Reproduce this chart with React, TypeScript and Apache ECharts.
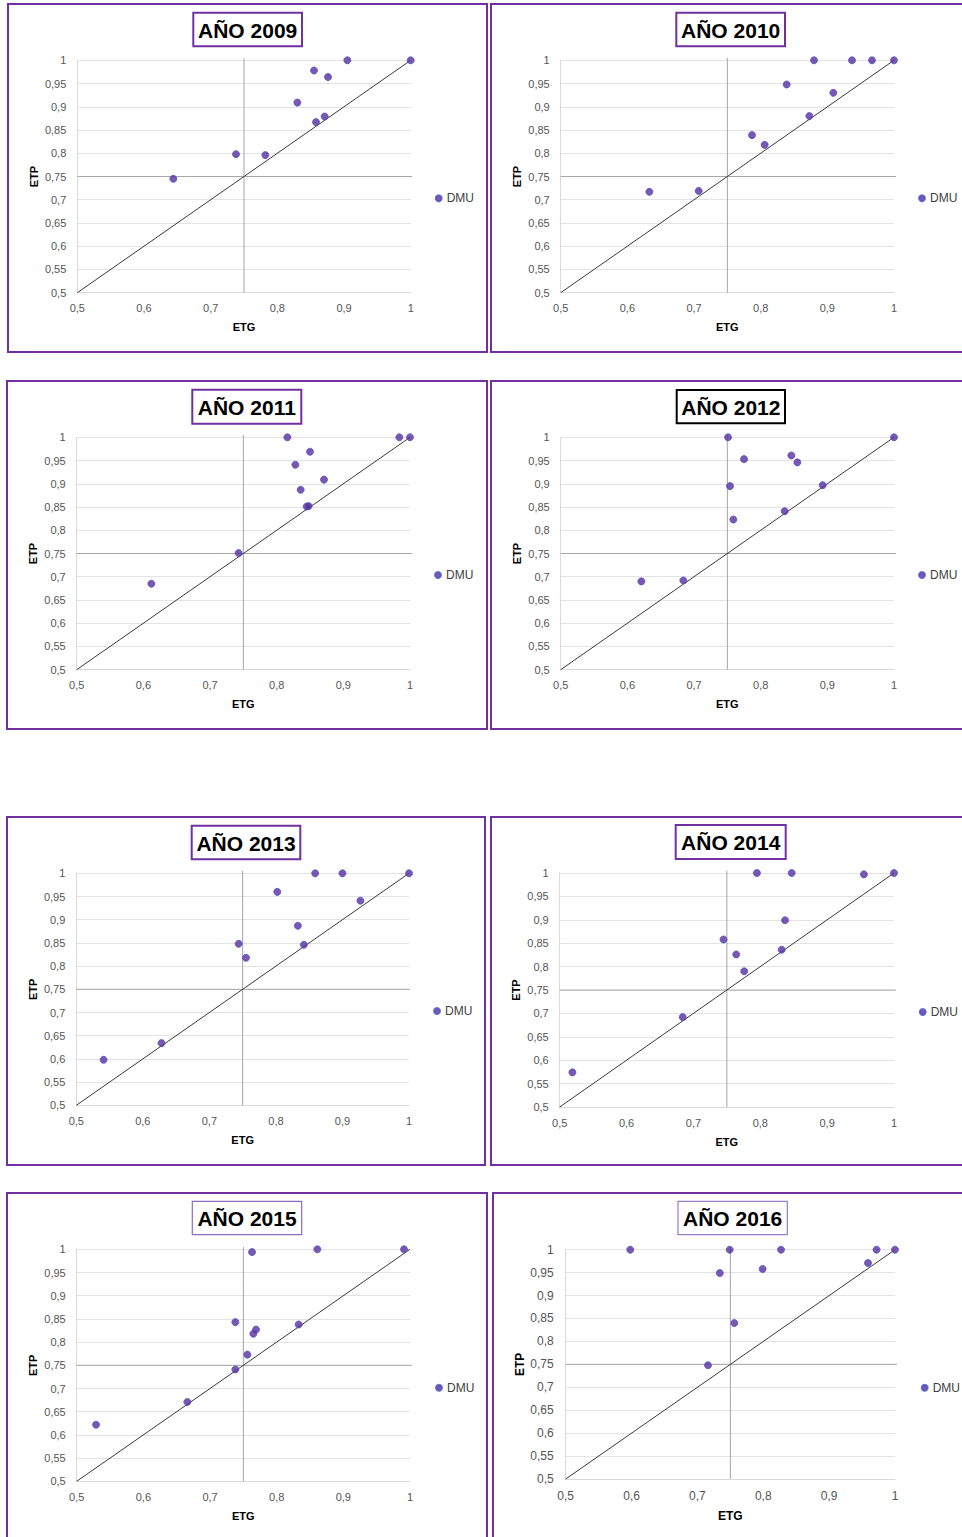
import React, { useEffect, useRef } from "react";
import * as echarts from "echarts";

// ---- Data (ETG, ETP) per DMU ----
const years = ["2009", "2010", "2011", "2012", "2013", "2014", "2015", "2016"];

const dmu2009 = [
  [0.905, 1.0], [1.0, 1.0], [0.855, 0.978], [0.876, 0.964], [0.83, 0.909],
  [0.871, 0.879], [0.858, 0.867], [0.738, 0.798], [0.782, 0.796], [0.644, 0.745],
];
const dmu2010 = [
  [0.88, 1.0], [0.937, 1.0], [0.967, 1.0], [1.0, 1.0], [0.839, 0.948],
  [0.909, 0.93], [0.873, 0.88], [0.787, 0.839], [0.806, 0.818], [0.633, 0.717], [0.707, 0.719],
];
const dmu2011 = [
  [0.816, 1.0], [0.984, 1.0], [1.0, 1.0], [0.85, 0.969], [0.828, 0.941],
  [0.871, 0.909], [0.836, 0.887], [0.845, 0.851], [0.848, 0.852], [0.743, 0.751], [0.612, 0.685],
];
const dmu2012 = [
  [0.751, 1.0], [1.0, 1.0], [0.846, 0.961], [0.855, 0.946], [0.775, 0.953],
  [0.754, 0.895], [0.893, 0.897], [0.836, 0.841], [0.759, 0.823], [0.621, 0.69], [0.684, 0.692],
];
const dmu2013 = [
  [0.859, 1.0], [0.9, 1.0], [1.0, 1.0], [0.802, 0.96], [0.927, 0.941],
  [0.833, 0.887], [0.744, 0.848], [0.842, 0.846], [0.755, 0.818], [0.628, 0.634], [0.541, 0.598],
];
const dmu2014 = [
  [0.795, 1.0], [0.847, 1.0], [0.955, 0.997], [1.0, 1.0], [0.837, 0.899],
  [0.745, 0.858], [0.764, 0.826], [0.832, 0.836], [0.776, 0.79], [0.684, 0.692], [0.519, 0.574],
];
const dmu2015 = [
  [0.763, 0.994], [0.861, 1.0], [0.991, 1.0], [0.738, 0.843], [0.769, 0.827],
  [0.765, 0.818], [0.833, 0.838], [0.756, 0.773], [0.738, 0.741], [0.666, 0.671], [0.529, 0.622],
];
const dmu2016 = [
  [0.598, 1.0], [0.749, 1.0], [0.827, 1.0], [0.972, 1.0], [1.0, 1.0],
  [0.734, 0.949], [0.799, 0.958], [0.959, 0.971], [0.756, 0.84], [0.716, 0.748],
];
const dmuByYear = [dmu2009, dmu2010, dmu2011, dmu2012, dmu2013, dmu2014, dmu2015, dmu2016];

// reference lines
const diagonalLine = [[0.5, 0.5], [1.0, 1.0]];
const horizontalLine = [[0.5, 0.75], [1.01, 0.75]];
const verticalLine = [[0.75, 0.5], [0.75, 1.005]];

const seriesName = "DMU";
const xName = "ETG";
const yName = "ETP";

// ---- Layout (pixels) ----
type Panel = {
  box: number[];
  grid: number[];
  title: number[];
  titleColor: string;
  titleWidth: number;
  legend: number[];
  font: number;
  yGap: number;
  xGap: number;
  yMargin: number;
  xMargin: number;
};

const panels: Panel[] = [
  { box: [8, 4, 479, 348], grid: [77.3, 60.3, 410.7, 292.7], title: [193.3, 12.7, 302, 46.3], titleColor: "#7030a0", titleWidth: 2, legend: [437.7, 198.3], font: 11, yGap: 38, xGap: 29, yMargin: 11, xMargin: 10 },
  { box: [491, 4, 480, 348], grid: [560.7, 60.3, 894, 292.7], title: [676.3, 12.7, 785, 46.3], titleColor: "#7030a0", titleWidth: 2, legend: [921, 198.3], font: 11, yGap: 38, xGap: 29, yMargin: 11, xMargin: 10 },
  { box: [7, 381, 480, 348], grid: [76.7, 437.3, 410, 669.7], title: [192.3, 389.7, 301.3, 423.7], titleColor: "#7030a0", titleWidth: 2, legend: [437, 575], font: 11, yGap: 38, xGap: 29, yMargin: 11, xMargin: 10 },
  { box: [491, 381, 480, 348], grid: [560.7, 437.3, 894, 669.7], title: [676.7, 390, 785, 423.3], titleColor: "#000000", titleWidth: 2, legend: [921, 575], font: 11, yGap: 38, xGap: 29, yMargin: 11, xMargin: 10 },
  { box: [7, 817, 478, 348], grid: [76.3, 873.3, 409, 1105.3], title: [191.7, 825.7, 300.3, 859.3], titleColor: "#7030a0", titleWidth: 2, legend: [436, 1011], font: 11, yGap: 38, xGap: 29, yMargin: 11, xMargin: 10 },
  { box: [491, 817, 480, 348], grid: [559.7, 873, 894, 1107], title: [675.7, 825, 785.7, 859], titleColor: "#7030a0", titleWidth: 2, legend: [921.7, 1012], font: 11, yGap: 38, xGap: 29, yMargin: 11, xMargin: 10 },
  { box: [7, 1193, 480, 360], grid: [76.7, 1249.3, 410, 1481.3], title: [192.3, 1201.3, 301.7, 1234.7], titleColor: "#8e6bbd", titleWidth: 1.2, legend: [438, 1387.7], font: 11, yGap: 38, xGap: 29, yMargin: 11, xMargin: 10 },
  { box: [493, 1193, 480, 360], grid: [565.7, 1249.7, 895, 1479], title: [678, 1201.3, 787.3, 1234.7], titleColor: "#9a7cc6", titleWidth: 1.2, legend: [923.7, 1387.7], font: 12, yGap: 40, xGap: 31, yMargin: 12, xMargin: 11 },
];

const FONT = "'Liberation Sans', Arial, sans-serif";
const fmt = (v: number) => String(Math.round(v * 100) / 100).replace(".", ",");

export default function App() {
  const ref = useRef<HTMLDivElement>(null);

  useEffect(() => {
    document.body.style.margin = "0";
    if (!ref.current) return;
    const chart = echarts.init(ref.current, undefined, { renderer: "svg" });

    const grid = panels.map((p) => ({
      left: p.grid[0],
      top: p.grid[1],
      width: p.grid[2] - p.grid[0],
      height: p.grid[3] - p.grid[1],
      containLabel: false,
    }));

    const xAxis = panels.map((p, i) => ({
      type: "value",
      gridIndex: i,
      min: 0.5,
      max: 1,
      interval: 0.1,
      name: xName,
      nameLocation: "middle",
      nameGap: p.xGap,
      nameTextStyle: { fontWeight: "bold", color: "#000", fontSize: p.font, fontFamily: FONT },
      axisLine: { show: true, lineStyle: { color: "#d9d9d9", width: 1 } },
      axisTick: { show: false },
      splitLine: { show: false },
      axisLabel: { formatter: fmt, color: "#555555", fontSize: p.font, fontFamily: FONT, margin: p.xMargin },
    }));

    const yAxis = panels.map((p, i) => ({
      type: "value",
      gridIndex: i,
      min: 0.5,
      max: 1,
      interval: 0.05,
      name: yName,
      nameLocation: "middle",
      nameGap: p.yGap,
      nameTextStyle: { fontWeight: "bold", color: "#000", fontSize: p.font, fontFamily: FONT },
      axisLine: { show: true, lineStyle: { color: "#d9d9d9", width: 1 } },
      axisTick: { show: false },
      splitLine: { show: true, lineStyle: { color: "#e3e3e3", width: 1 } },
      axisLabel: { formatter: fmt, color: "#555555", fontSize: p.font, fontFamily: FONT, margin: p.yMargin },
    }));

    const series: any[] = [];
    panels.forEach((_, i) => {
      const common = { xAxisIndex: i, yAxisIndex: i };
      series.push({
        ...common,
        type: "line",
        data: horizontalLine,
        symbol: "none",
        clip: false,
        silent: true,
        lineStyle: { color: "#a6a6a6", width: 1 },
        z: 2,
      });
      series.push({
        ...common,
        type: "line",
        data: verticalLine,
        symbol: "none",
        clip: false,
        silent: true,
        lineStyle: { color: "#a6a6a6", width: 1 },
        z: 2,
      });
      series.push({
        ...common,
        type: "line",
        data: diagonalLine,
        symbol: "none",
        clip: false,
        silent: true,
        lineStyle: { color: "#3a3a3a", width: 1 },
        z: 3,
      });
      series.push({
        ...common,
        name: seriesName,
        type: "scatter",
        data: dmuByYear[i],
        symbol: "circle",
        symbolSize: 7,
        itemStyle: { color: "#5e2a9c", borderColor: "#4a58c2", borderWidth: 1 },
        z: 5,
      });
    });

    const legend = panels.map((p) => ({
      data: [seriesName],
      left: p.legend[0] - 3,
      top: p.legend[1] - 6,
      orient: "vertical",
      itemWidth: 6,
      itemHeight: 6,
      icon: "circle",
      padding: 0,
      selectedMode: false,
      textStyle: { fontSize: 12, color: "#404040", fontFamily: FONT, lineHeight: 12 },
    }));

    const graphic: any[] = [];
    panels.forEach((p, i) => {
      graphic.push({
        type: "rect",
        shape: { x: p.box[0], y: p.box[1], width: p.box[2], height: p.box[3] },
        style: { fill: "none", stroke: "#7030a0", lineWidth: 2 },
        silent: true,
        z: 0,
      });
      const [tx0, ty0, tx1, ty1] = p.title;
      graphic.push({
        type: "rect",
        shape: { x: tx0, y: ty0, width: tx1 - tx0, height: ty1 - ty0 },
        style: { fill: "#fff", stroke: p.titleColor, lineWidth: p.titleWidth },
        silent: true,
        z: 10,
      });
      graphic.push({
        type: "text",
        x: (tx0 + tx1) / 2,
        y: (ty0 + ty1) / 2 + 0.5,
        style: {
          text: "AÑO " + years[i],
          textAlign: "center",
          textVerticalAlign: "middle",
          fontSize: 21,
          fontWeight: "bold",
          fontFamily: FONT,
          fill: "#000",
        },
        silent: true,
        z: 11,
      });
    });

    chart.setOption({
      animation: false,
      backgroundColor: "#ffffff",
      grid,
      xAxis,
      yAxis,
      legend,
      series,
      graphic,
    });

    return () => chart.dispose();
  }, []);

  return (
    <div
      ref={ref}
      style={{ position: "absolute", left: 0, top: 0, width: 962, height: 1537 }}
    />
  );
}
